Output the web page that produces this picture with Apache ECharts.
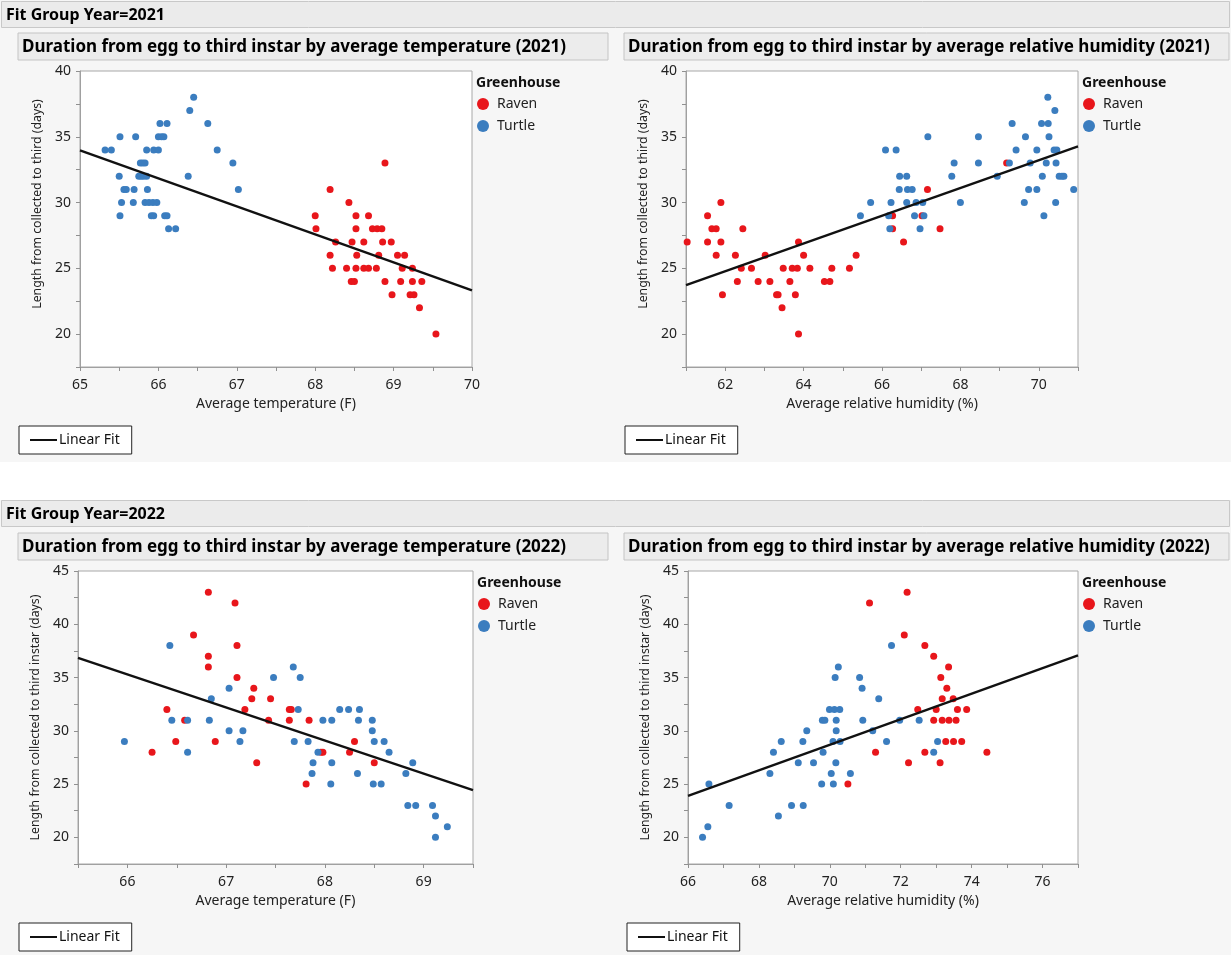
<!DOCTYPE html>
<html><head><meta charset="utf-8">
<script src="https://cdn.jsdelivr.net/npm/echarts@6/dist/echarts.min.js"></script>
<style>html,body{margin:0;padding:0;background:#fff}#c{width:1231px;height:955px}</style>
</head><body><div id="c"></div>
<script>
// ---------- DATA ----------
const groupTitles = ['Fit Group Year=2021', 'Fit Group Year=2022'];
const panelTitles = [
  'Duration from egg to third instar by average temperature (2021)',
  'Duration from egg to third instar by average relative humidity (2021)',
  'Duration from egg to third instar by average temperature (2022)',
  'Duration from egg to third instar by average relative humidity (2022)'
];
const xNames = ['Average temperature (F)', 'Average relative humidity (%)', 'Average temperature (F)', 'Average relative humidity (%)'];
const yNames = ['Length from collected to third (days)', 'Length from collected to third (days)',
  'Length from collected to third instar (days)', 'Length from collected to third instar (days)'];
const groups = ['Raven', 'Turtle'];

const temp2021Turtle = [[65.32,34],[65.40,34],[65.51,35],[65.71,35],[65.50,32],[65.56,31],[65.59,31],[65.69,31],
  [65.53,30],[65.68,30],[65.51,29],[65.77,33],[65.80,33],[65.83,33],[65.75,32],[65.78,32],[65.81,32],[65.85,32],
  [65.85,34],[65.94,34],[66.00,34],[65.86,31],[65.83,30],[65.88,30],[65.93,30],[65.98,30],[65.91,29],[65.94,29],
  [66.02,36],[66.11,36],[66.00,35],[66.04,35],[66.07,35],[66.08,29],[66.11,29],[66.13,28],[66.22,28],[66.40,37],
  [66.45,38],[66.38,32],[66.63,36],[66.75,34],[66.95,33],[67.02,31]];
const temp2021Raven = [[68.00,29],[68.01,28],[68.19,31],[68.26,27],[68.19,26],[68.22,25],[68.43,30],[68.52,29],
  [68.52,28],[68.47,27],[68.53,26],[68.40,25],[68.52,25],[68.46,24],[68.50,24],[68.62,27],[68.62,25],[68.68,25],
  [68.68,29],[68.73,28],[68.79,28],[68.85,28],[68.78,25],[68.81,26],[68.86,27],[68.89,33],[68.89,24],[68.97,27],
  [68.98,23],[69.05,26],[69.14,26],[69.09,24],[69.11,25],[69.24,25],[69.21,23],[69.26,23],[69.24,24],[69.36,24],
  [69.33,22],[69.54,20]];

const rh2021Raven = [[61.03,27],[61.55,29],[61.55,27],[61.66,28],[61.77,28],[61.77,26],[61.89,30],[61.89,27],
  [61.93,23],[62.26,26],[62.31,24],[62.41,25],[62.45,28],[62.67,25],[62.84,24],[63.02,26],[63.14,24],[63.31,23],
  [63.35,23],[63.45,22],[63.48,25],[63.65,24],[63.71,25],[63.84,25],[63.79,23],[63.87,27],[63.87,20],[64.00,26],
  [64.16,25],[64.53,24],[64.67,24],[64.72,25],[65.17,25],[65.34,26],[66.27,29],[66.27,28],[66.55,27],[67.02,29],
  [67.16,31],[67.48,28],[69.18,33]];
const rh2021Turtle = [[65.45,29],[65.71,30],[66.09,34],[66.17,29],[66.20,28],[66.23,30],[66.36,34],[66.45,32],
  [66.44,31],[66.63,32],[66.63,30],[66.65,31],[66.77,31],[66.83,29],[66.87,30],[66.97,28],[67.04,30],[67.07,29],
  [67.17,35],[67.78,32],[67.84,33],[68.00,30],[68.46,35],[68.46,33],[68.94,32],[69.25,33],[69.32,36],[69.42,34],
  [69.63,30],[69.66,35],[69.74,31],[69.78,33],[69.95,34],[69.95,31],[70.07,36],[70.09,32],[70.13,29],[70.19,33],
  [70.23,38],[70.24,36],[70.26,35],[70.41,37],[70.39,34],[70.46,34],[70.44,33],[70.43,30],[70.52,32],[70.59,32],
  [70.64,32],[70.89,31]];

const temp2022Raven = [[66.82,43],[67.09,42],[66.67,39],[67.11,38],[66.82,37],[66.82,36],[67.11,35],[67.28,34],
  [67.26,33],[67.45,33],[67.19,32],[66.40,32],[66.58,31],[67.43,31],[67.64,32],[67.66,32],[67.64,31],[67.84,31],
  [66.49,29],[66.89,29],[66.25,28],[67.31,27],[67.81,25],[67.96,28],[67.98,28],[68.30,29],[68.25,28],[68.50,27]];
const temp2022Turtle = [[65.97,29],[66.43,38],[66.45,31],[66.61,31],[66.61,28],[66.85,33],[66.83,31],[67.03,34],
  [67.03,30],[67.14,29],[67.17,30],[67.48,35],[67.68,36],[67.75,35],[67.73,32],[67.69,29],[67.83,29],[67.93,28],
  [67.88,27],[67.87,26],[67.98,31],[68.07,31],[68.07,27],[68.06,25],[68.15,32],[68.24,32],[68.35,32],[68.34,31],
  [68.33,26],[68.48,31],[68.48,30],[68.50,29],[68.49,25],[68.57,25],[68.60,29],[68.65,28],[68.89,27],[68.82,26],
  [68.84,23],[68.92,23],[69.09,23],[69.12,22],[69.12,20],[69.24,21]];

const rh2022Raven = [[72.18,43],[71.12,42],[72.10,39],[72.68,38],[72.93,37],[73.35,36],[73.13,35],[73.30,34],
  [73.17,33],[73.48,33],[72.48,32],[73.00,32],[73.60,32],[73.86,32],[72.93,31],[73.17,31],[73.36,31],[73.56,31],
  [73.27,29],[73.49,29],[73.72,29],[71.29,28],[72.68,28],[74.43,28],[72.22,27],[73.11,27],[70.51,25]];
const rh2022Turtle = [[66.41,20],[66.56,21],[66.59,25],[67.16,23],[68.31,26],[68.41,28],[68.55,22],[68.63,29],
  [68.92,23],[69.11,27],[69.24,29],[69.25,23],[69.35,30],[69.54,27],[69.77,25],[69.79,31],[69.86,31],[69.81,28],
  [69.99,32],[70.04,26],[70.09,29],[70.10,25],[70.15,35],[70.13,32],[70.28,32],[70.18,31],[70.18,30],[70.17,27],
  [70.24,36],[70.29,29],[70.58,26],[70.84,35],[70.91,34],[70.93,31],[71.21,30],[71.38,33],[71.60,29],[71.74,38],
  [71.97,31],[72.52,31],[72.93,28],[73.04,29]];

// Linear fit end points
const fit2021Temp = [[65, 33.97], [70, 23.33]];
const fit2021RH = [[61, 23.72], [71, 34.27]];
const fit2022Temp = [[65.5, 36.84], [69.5, 24.44]];
const fit2022RH = [[66, 23.9], [77, 37.08]];

// Axis ranges: [min, max, tick step, label step]
const xRanges = [[65, 70, 0.5, 1], [61, 71, 1, 2], [65.5, 69.5, 0.5, 1], [66, 77, 1, 2]];
const yRanges = [[17.5, 40, 2.5, 5], [17.5, 40, 2.5, 5], [17.5, 45, 2.5, 5], [17.5, 45, 2.5, 5]];

const panelData = [
  [temp2021Raven, temp2021Turtle, fit2021Temp],
  [rh2021Raven, rh2021Turtle, fit2021RH],
  [temp2022Raven, temp2022Turtle, fit2022Temp],
  [rh2022Raven, rh2022Turtle, fit2022RH]
];

// ---------- LAYOUT / STYLE ----------
const FONT = '"Noto Sans", "DejaVu Sans", sans-serif';
const RED = '#e8161b', BLUE = '#3b7dbf';
const grids = [
  {left: 80, top: 71, width: 392, height: 296},
  {left: 686, top: 71, width: 392, height: 296},
  {left: 78, top: 571, width: 395, height: 293},
  {left: 688, top: 571, width: 390, height: 293}
];
const titleBoxes = [
  {x: 18, y: 33, w: 590}, {x: 624, y: 33, w: 605},
  {x: 18, y: 533, w: 590}, {x: 624, y: 533, w: 605}
];
const legendPos = [[477, 97], [1083, 97], [478, 597], [1083, 597]];
const fitLegendPos = [[19, 426], [625, 426], [19, 923], [627, 923]];
const yNameShift = [30, 30, 0, 0];

function stepLabel(step) {
  return function (v) {
    const r = v / step;
    return Math.abs(r - Math.round(r)) < 1e-6 ? String(Math.round(v * 100) / 100) : '';
  };
}

const xAxis = [], yAxis = [], series = [], legend = [], graphic = [];
const axisLabelStyle = {color: '#222', fontSize: 14, fontFamily: FONT};
for (let i = 0; i < 4; i++) {
  const xr = xRanges[i], yr = yRanges[i];
  xAxis.push({
    type: 'value', gridIndex: i, min: xr[0], max: xr[1], interval: xr[2],
    name: xNames[i], nameLocation: 'middle', nameGap: 30,
    nameTextStyle: {color: '#222', fontSize: 14, fontFamily: FONT},
    axisLine: {show: true, onZero: false, lineStyle: {color: '#a0a0a0'}},
    axisTick: {show: true, length: 4, lineStyle: {color: '#909090'}},
    axisLabel: Object.assign({margin: 11, formatter: stepLabel(xr[3]), showMinLabel: true, showMaxLabel: true}, axisLabelStyle),
    splitLine: {show: false}
  });
  yAxis.push({
    type: 'value', gridIndex: i, min: yr[0], max: yr[1], interval: yr[2],
    name: yNames[i], nameLocation: 'middle', nameGap: 37, nameRotate: 90,
    nameTextStyle: {color: '#222', fontSize: 12.3, fontFamily: FONT, padding: [0, 0, 0, yNameShift[i]]},
    axisLine: {show: true, onZero: false, lineStyle: {color: '#a0a0a0'}},
    axisTick: {show: true, length: 4, lineStyle: {color: '#909090'}},
    axisLabel: Object.assign({margin: 9, formatter: stepLabel(yr[3])}, axisLabelStyle),
    splitLine: {show: false}
  });
  const d = panelData[i];
  series.push({type: 'scatter', name: 'Raven', xAxisIndex: i, yAxisIndex: i, data: d[0], symbolSize: 7,
    itemStyle: {color: RED, opacity: 1}, z: 2});
  series.push({type: 'scatter', name: 'Turtle', xAxisIndex: i, yAxisIndex: i, data: d[1], symbolSize: 7,
    itemStyle: {color: BLUE, opacity: 1}, z: 3});
  series.push({type: 'line', name: 'Linear Fit', xAxisIndex: i, yAxisIndex: i, data: d[2], symbol: 'none',
    lineStyle: {color: '#111', width: 2.4}, itemStyle: {color: '#111'}, z: 4, silent: true});

  legend.push({
    orient: 'vertical', left: legendPos[i][0], top: legendPos[i][1], data: groups,
    icon: 'circle', itemWidth: 12, itemHeight: 12, itemGap: 8, padding: 0,
    textStyle: {color: '#222', fontSize: 14, fontFamily: FONT, padding: [0, 0, 0, 3]}
  });
  legend.push({
    left: fitLegendPos[i][0], top: fitLegendPos[i][1], data: ['Linear Fit'],
    itemWidth: 27, itemHeight: 12, padding: [7, 12, 7, 10], borderColor: '#222', borderWidth: 1,
    backgroundColor: '#fff', itemStyle: {opacity: 0},
    textStyle: {color: '#111', fontSize: 14, fontFamily: FONT, padding: [0, 0, 0, -3]}
  });

  graphic.push({type: 'text', left: legendPos[i][0] - 1, top: legendPos[i][1] - 21,
    style: {text: 'Greenhouse', fill: '#111', font: 'bold 14px ' + FONT}});

  const tb = titleBoxes[i];
  graphic.push({type: 'rect', shape: {x: tb.x, y: tb.y, width: tb.w, height: 27},
    style: {fill: '#ececec', stroke: '#c4c4c4', lineWidth: 1}});
  graphic.push({type: 'text', x: tb.x + 4, y: tb.y + 14,
    style: {text: panelTitles[i], fill: '#000', font: 'bold 17px ' + FONT, verticalAlign: 'middle'}});
}
// white strip between the two groups
graphic.unshift({type: 'rect', shape: {x: 0, y: 462, width: 1231, height: 38}, style: {fill: '#ffffff'}});
[0, 1].forEach(function (g) {
  const y0 = g * 499 + 1;
  graphic.push({type: 'rect', shape: {x: 1.5, y: y0 + 0.5, width: 1228, height: 26},
    style: {fill: '#ebebeb', stroke: '#c8c8c8', lineWidth: 1}});
  graphic.push({type: 'text', x: 6, y: y0 + 14,
    style: {text: groupTitles[g], fill: '#000', font: 'bold 16px ' + FONT, verticalAlign: 'middle'}});
});

const chart = echarts.init(document.getElementById('c'), null, {renderer: 'canvas'});
chart.setOption({
  animation: false,
  backgroundColor: '#f6f6f6',
  grid: grids.map(function (g) {
    return Object.assign({show: true, backgroundColor: '#ffffff', borderColor: '#a8a8a8', borderWidth: 1, containLabel: false}, g);
  }),
  xAxis: xAxis, yAxis: yAxis, series: series, legend: legend, graphic: graphic
});
</script></body></html>
